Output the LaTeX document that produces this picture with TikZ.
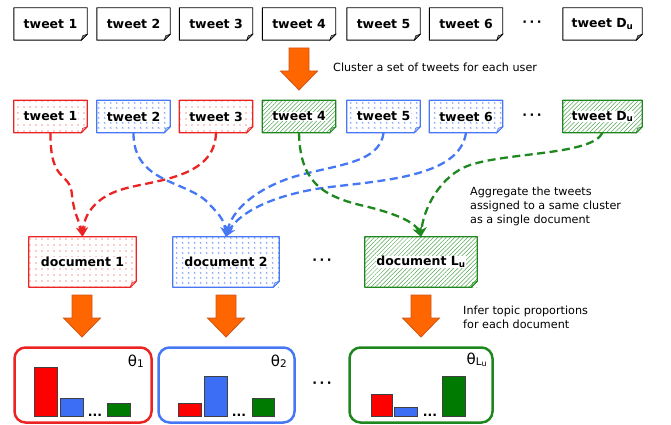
\documentclass[tikz,border=0pt]{standalone}
\usepackage{fontspec}
\setmainfont{DejaVu Sans}
\usetikzlibrary{patterns,patterns.meta,arrows.meta}
\definecolor{cred}{RGB}{235,35,35}
\definecolor{cblue}{RGB}{70,120,245}
\definecolor{cgreen}{RGB}{30,135,30}
\definecolor{corange}{RGB}{255,102,0}
\definecolor{corangeD}{RGB}{205,85,25}
\definecolor{bred}{RGB}{255,0,0}
\definecolor{bblue}{RGB}{60,110,245}
\definecolor{bgreen}{RGB}{0,122,0}
\newcommand\bfs{\fontsize{12.5}{14}\selectfont\bfseries}
\newcommand\rgs{\fontsize{11.2}{13}\selectfont}
\newcommand\hl[1]{{\setlength{\fboxsep}{0.3pt}\colorbox{white}{#1}}}
\pgfdeclarepattern{
  name=chev, type=uncolored,
  bottom left={\pgfpoint{0pt}{0pt}}, top right={\pgfpoint{6pt}{5pt}},
  tile size={\pgfpoint{6pt}{5pt}},
  code={\pgfsetlinewidth{0.5pt}
    \pgfpathmoveto{\pgfpoint{3.8pt}{1.5pt}}\pgfpathlineto{\pgfpoint{2.4pt}{2.5pt}}\pgfpathlineto{\pgfpoint{3.8pt}{3.5pt}}
    \pgfusepath{stroke}}
}
\newcommand\dogear[3]{%
  \fill[white] ([yshift=6pt]#1.south east) -- (#1.south east) -- ([xshift=-6pt]#1.south east) -- cycle;
  \draw[#2, line width=#3, line join=round] (#1.north west) -- (#1.north east) -- ([yshift=6pt]#1.south east) -- ([xshift=-6pt]#1.south east) -- (#1.south west) -- cycle;
  \filldraw[#2, fill=#2!45, line width=0.5pt] ([yshift=6pt]#1.south east) -- ([xshift=-6pt]#1.south east) -- ([shift={(-4.5pt,4.5pt)}]#1.south east) -- cycle;}
\tikzset{
  x=1pt, y=-1pt,
  tw/.style={minimum width=73pt, minimum height=32pt, inner sep=0pt, font=\bfs},
  twr/.style={tw, pattern={Dots[distance=6pt,radius=0.65pt]}, pattern color=cred},
  twb/.style={tw, pattern=chev, pattern color=cblue!85},
  twg/.style={tw, pattern={Lines[angle=45,distance=3pt,line width=0.5pt]}, pattern color=cgreen!75},
  doc/.style={minimum height=50pt, inner sep=0pt, font=\bfs},
  txt/.style={anchor=west, inner sep=0pt, font=\rgs, align=left},
  dots/.style={inner sep=0pt, font=\bfs},
  conn/.style={line width=2.3pt, dash pattern=on 8pt off 4.5pt, -{Stealth[length=10pt,width=10pt,inset=3pt]}},
  res/.style={line width=2.5pt, rounded corners=11pt, minimum height=75pt, inner sep=0pt},
  bar/.style={draw=black!75, line width=0.7pt},
  thl/.style={inner sep=0pt, anchor=north east, font=\fontsize{15}{15}\selectfont},
  bigarrow/.pic={\draw[fill=corange, draw=corangeD, line width=0.8pt, line join=miter]
     (-10,0) -- (10,0) -- (10,23) -- (18.5,23) -- (0,42) -- (-18.5,23) -- (-10,23) -- cycle;}
}
\begin{document}
\begin{tikzpicture}
\useasboundingbox (0,0) rectangle (671,425);
% top row
\node[tw] (a1) at (50.5,24) {tweet 1};
\node[tw] (a2) at (133.5,24) {tweet 2};
\node[tw] (a3) at (216,24) {tweet 3};
\node[tw] (a4) at (299,24) {tweet 4};
\node[tw] (a5) at (383.5,24) {tweet 5};
\node[tw] (a6) at (466,24) {tweet 6};
\node[tw, minimum width=79pt] (a7) at (602.5,24) {tweet D\textsubscript{u}};
\foreach \n in {a1,a2,a3,a4,a5,a6,a7} {\dogear{\n}{black}{0.9pt}}
\node[dots] (ad) at (532,24) {·\hspace{2.5pt}·\hspace{2.5pt}·};
% arrow 1
\pic at (299,48) {bigarrow};
\node[txt] (t1) at (333,67) {Cluster a set of tweets for each user};
% second row
\node[twr] (b1) at (50.5,116.5) {\hl{tweet 1}};
\node[twb] (b2) at (133.5,116.5) {\hl{tweet 2}};
\node[twr] (b3) at (216,116.5) {\hl{tweet 3}};
\node[twg] (b4) at (299,116.5) {\hl{tweet 4}};
\node[twb] (b5) at (383.5,116.5) {\hl{tweet 5}};
\node[twb] (b6) at (466,116.5) {\hl{tweet 6}};
\node[twg, minimum width=79pt] (b7) at (602.5,116.5) {\hl{tweet D\textsubscript{u}}};
\dogear{b1}{cred}{1.3pt}
\dogear{b2}{cblue}{1.3pt}
\dogear{b3}{cred}{1.3pt}
\dogear{b4}{cgreen}{1.3pt}
\dogear{b5}{cblue}{1.3pt}
\dogear{b6}{cblue}{1.3pt}
\dogear{b7}{cgreen}{1.3pt}
\node[dots] (bd) at (532,116.5) {·\hspace{2.5pt}·\hspace{2.5pt}·};
% documents
\node[doc, minimum width=107pt, pattern={Dots[distance=6pt,radius=0.65pt]}, pattern color=cred] (d1) at (82.5,262) {\hl{document 1}};
\node[doc, minimum width=106pt, pattern=chev, pattern color=cblue!85] (d2) at (226,262) {\hl{document 2}};
\node[doc, minimum width=112pt, pattern={Lines[angle=45,distance=3pt,line width=0.5pt]}, pattern color=cgreen!75] (d3) at (421,262) {\hl{document L\textsubscript{u}}};
\dogear{d1}{cred}{1.3pt}
\dogear{d2}{cblue}{1.3pt}
\dogear{d3}{cgreen}{1.3pt}
\node[dots] (dd) at (322,262) {·\hspace{2.5pt}·\hspace{2.5pt}·};
% connectors
\draw[conn, cred] (b1.south) .. controls (50,185) and (70,170) .. (72,195) .. controls (74,215) and (80,222) .. (d1.north);
\draw[conn, cred] (b3.south) .. controls (215,180) and (150,180) .. (120,190) .. controls (95,198) and (84,215) .. (d1.north);
\draw[conn, cblue] (b2.south) .. controls (133,185) and (190,180) .. (210,205) .. controls (220,215) and (225,222) .. (d2.north);
\draw[conn, cblue] (b5.south) .. controls (380,165) and (330,165) .. (290,178) .. controls (255,190) and (232,210) .. (d2.north);
\draw[conn, cblue] (b6.south) .. controls (460,175) and (390,180) .. (330,187) .. controls (280,193) and (240,210) .. (d2.north);
\draw[conn, cgreen] (b4.south) .. controls (300,180) and (320,195) .. (360,205) .. controls (395,213) and (415,222) .. (d3.north);
\draw[conn, cgreen] (b7.south) .. controls (592,155) and (510,152) .. (470,165) .. controls (440,175) and (423,210) .. (d3.north);
\node[txt] (t2) at (470,206) {Aggregate the tweets\\[1pt]assigned to a same cluster\\[1pt]as a single document};
% arrows 2
\pic at (82,295) {bigarrow};
\pic at (226,295) {bigarrow};
\pic at (421,295) {bigarrow};
\node[txt] (t3) at (463,317) {Infer topic proportions\\[1pt]for each document};
% results
\node[res, draw=cred, minimum width=137pt] (r1) at (83,385) {};
\node[res, draw=cblue, minimum width=136pt] (r2) at (226.5,385) {};
\node[res, draw=cgreen, minimum width=143pt] (r3) at (421,385) {};
\node[dots] (rd) at (322,385) {·\hspace{2.5pt}·\hspace{2.5pt}·};
\node[thl] (th1) at (144,355) {θ\raisebox{-0.5pt}{\fontsize{10.5}{10.5}\selectfont 1}};
\node[thl] (th2) at (287,355) {θ\raisebox{-0.5pt}{\fontsize{10.5}{10.5}\selectfont 2}};
\node[thl] (th3) at (487,353) {θ\raisebox{-0.5pt}{\fontsize{10.5}{10.5}\selectfont L\raisebox{-1.5pt}{\fontsize{8}{8}\selectfont u}}};
% bars
\draw[bar, fill=bred] (34,367) rectangle (57,416);
\draw[bar, fill=bblue] (60,398) rectangle (83,416);
\node[dots, anchor=base] (x1) at (95,416) {...};
\draw[bar, fill=bgreen] (107,403) rectangle (130,416);
\draw[bar, fill=bred] (178,403) rectangle (201,416);
\draw[bar, fill=bblue] (204,376) rectangle (227,416);
\node[dots, anchor=base] (x2) at (239,416) {...};
\draw[bar, fill=bgreen] (252,398) rectangle (274,416);
\draw[bar, fill=bred] (371,394) rectangle (392,416);
\draw[bar, fill=bblue] (394,407) rectangle (417,416);
\node[dots, anchor=base] (x3) at (430,416) {...};
\draw[bar, fill=bgreen] (442,376) rectangle (465,416);
\end{tikzpicture}
\end{document}
